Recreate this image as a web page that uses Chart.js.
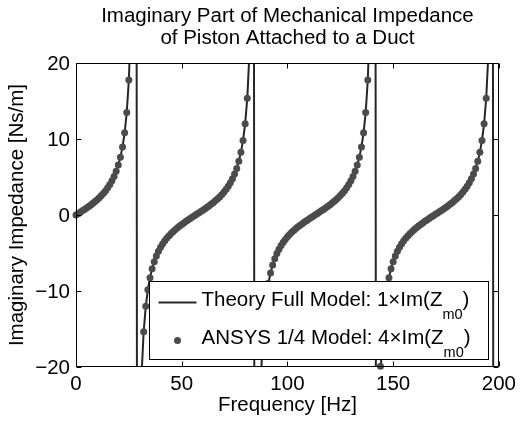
<!DOCTYPE html>
<html>
<head>
<meta charset="utf-8">
<script src="https://cdn.jsdelivr.net/npm/chart.js@4.4.1/dist/chart.umd.min.js"></script>
<style>
  html, body { margin: 0; padding: 0; background: #fff; }
</style>
</head>
<body>
<canvas id="impChart" width="521" height="421"></canvas>
<script>
// frequency grid of the samples [Hz]
const freqHz = [
  0, 1, 2, 3, 4, 5, 6, 7, 8, 9, 10, 11, 12, 13, 14, 15, 16, 17, 18, 19,
  20, 21, 22, 23, 24, 25, 26, 27, 28, 29, 30, 31, 32, 33, 34, 35, 36, 37, 38, 39,
  40, 41, 42, 43, 44, 45, 46, 47, 48, 49, 50, 51, 52, 53, 54, 55, 56, 57, 58, 59,
  60, 61, 62, 63, 64, 65, 66, 67, 68, 69, 70, 71, 72, 73, 74, 75, 76, 77, 78, 79,
  80, 81, 82, 83, 84, 85, 86, 87, 88, 89, 90, 91, 92, 93, 94, 95, 96, 97, 98, 99,
  100, 101, 102, 103, 104, 105, 106, 107, 108, 109, 110, 111, 112, 113, 114, 115, 116, 117, 118, 119,
  120, 121, 122, 123, 124, 125, 126, 127, 128, 129, 130, 131, 132, 133, 134, 135, 136, 137, 138, 139,
  140, 141, 142, 143, 144, 145, 146, 147, 148, 149, 150, 151, 152, 153, 154, 155, 156, 157, 158, 159,
  160, 161, 162, 163, 164, 165, 166, 167, 168, 169, 170, 171, 172, 173, 174, 175, 176, 177, 178, 179,
  180, 181, 182, 183, 184, 185, 186, 187, 188, 189, 190, 191, 192, 193, 194, 195, 196, 197, 198, 199,
  200
];

// Theory full model, 1 x Im(Zm0) [Ns/m]
const theoryIm = [
  0, 0.18, 0.36, 0.55, 0.74, 0.93, 1.13, 1.33, 1.55, 1.78,
  2.02, 2.28, 2.56, 2.87, 3.21, 3.58, 4.01, 4.50, 5.07, 5.75,
  6.58, 7.62, 8.97, 10.82, 13.50, 17.79, 25.84, 46.69, 233.8,
  -77.89, -33.30, -21.09, -15.36, -12.02, -9.82, -8.25, -7.07, -6.14, -5.40,
  -4.78, -4.25, -3.79, -3.39, -3.03, -2.71, -2.42, -2.15, -1.90, -1.66,
  -1.44, -1.23, -1.03, -0.83, -0.64, -0.46, -0.27, -0.09,
  0.09, 0.27, 0.46, 0.64, 0.83, 1.03, 1.23, 1.44, 1.66, 1.90,
  2.15, 2.42, 2.71, 3.03, 3.39, 3.79, 4.25, 4.78, 5.40, 6.14,
  7.07, 8.25, 9.82, 12.02, 15.36, 21.09, 33.30, 77.89,
  -233.8, -46.69, -25.84, -17.79, -13.50, -10.82, -8.97, -7.62, -6.58, -5.75,
  -5.07, -4.50, -4.01, -3.58, -3.21, -2.87, -2.56, -2.28, -2.02, -1.78,
  -1.55, -1.33, -1.13, -0.93, -0.74, -0.55, -0.36, -0.18,
  0, 0.18, 0.36, 0.55, 0.74, 0.93, 1.13, 1.33, 1.55, 1.78,
  2.02, 2.28, 2.56, 2.87, 3.21, 3.58, 4.01, 4.50, 5.07, 5.75,
  6.58, 7.62, 8.97, 10.82, 13.50, 17.79, 25.84, 46.69, 233.8,
  -77.89, -33.30, -21.09, -15.36, -12.02, -9.82, -8.25, -7.07, -6.14, -5.40,
  -4.78, -4.25, -3.79, -3.39, -3.03, -2.71, -2.42, -2.15, -1.90, -1.66,
  -1.44, -1.23, -1.03, -0.83, -0.64, -0.46, -0.27, -0.09,
  0.09, 0.27, 0.46, 0.64, 0.83, 1.03, 1.23, 1.44, 1.66, 1.90,
  2.15, 2.42, 2.71, 3.03, 3.39, 3.79, 4.25, 4.78, 5.40, 6.14,
  7.07, 8.25, 9.82, 12.02, 15.36, 21.09, 33.30, 77.89,
  -233.8, -46.69, -25.84
];

// ANSYS 1/4 model, 4 x Im(Zm0) [Ns/m]
const ansysIm = [
  0, 0.18, 0.36, 0.55, 0.74, 0.93, 1.13, 1.33, 1.55, 1.78,
  2.02, 2.28, 2.56, 2.87, 3.21, 3.58, 4.01, 4.50, 5.07, 5.75,
  6.58, 7.62, 8.97, 10.82, 13.50, 17.79, 25.84, 46.69, 233.8,
  -77.89, -33.30, -21.09, -15.36, -12.02, -9.82, -8.25, -7.07, -6.14, -5.40,
  -4.78, -4.25, -3.79, -3.39, -3.03, -2.71, -2.42, -2.15, -1.90, -1.66,
  -1.44, -1.23, -1.03, -0.83, -0.64, -0.46, -0.27, -0.09,
  0.09, 0.27, 0.46, 0.64, 0.83, 1.03, 1.23, 1.44, 1.66, 1.90,
  2.15, 2.42, 2.71, 3.03, 3.39, 3.79, 4.25, 4.78, 5.40, 6.14,
  7.07, 8.25, 9.82, 12.02, 15.36, 21.09, 33.30, 77.89,
  -233.8, -46.69, -25.84, -17.79, -13.50, -10.82, -8.97, -7.62, -6.58, -5.75,
  -5.07, -4.50, -4.01, -3.58, -3.21, -2.87, -2.56, -2.28, -2.02, -1.78,
  -1.55, -1.33, -1.13, -0.93, -0.74, -0.55, -0.36, -0.18,
  0, 0.18, 0.36, 0.55, 0.74, 0.93, 1.13, 1.33, 1.55, 1.78,
  2.02, 2.28, 2.56, 2.87, 3.21, 3.58, 4.01, 4.50, 5.07, 5.75,
  6.58, 7.62, 8.97, 10.82, 13.50, 17.79, 25.84, 46.69, 233.8,
  -77.89, -33.30, -19.9, -15.36, -12.02, -9.82, -8.25, -7.07, -6.14, -5.40,
  -4.78, -4.25, -3.79, -3.39, -3.03, -2.71, -2.42, -2.15, -1.90, -1.66,
  -1.44, -1.23, -1.03, -0.83, -0.64, -0.46, -0.27, -0.09,
  0.09, 0.27, 0.46, 0.64, 0.83, 1.03, 1.23, 1.44, 1.66, 1.90,
  2.15, 2.42, 2.71, 3.03, 3.39, 3.79, 4.25, 4.78, 5.40, 6.14,
  7.07, 8.25, 9.82, 12.02, 15.36, 21.09, 33.30, 77.89,
  -233.8, -46.69, -25.84
];

const xTicks = [0, 50, 100, 150, 200];
const yTicks = [-20, -10, 0, 10, 20];
const legendLabels = ["Theory Full Model: 1\u00d7Im(Z", "ANSYS 1/4 Model: 4\u00d7Im(Z"];
const legendSub = "m0";

const FONT = '"Liberation Sans", Arial, Helvetica, sans-serif';
const FS = 20.5;
const lineColor = "#262626";
const dotColor = "#4b4b4b";

const toPoints = ys => freqHz.map((f, i) => ({ x: f, y: ys[i] }));
const minusSign = v => String(v).replace("-", "\u2212");

// box round the axes + inward tick marks on all four sides (matlab style)
const axesBox = {
  id: "axesBox",
  afterDatasetsDraw(chart) {
    const { ctx, chartArea: a, scales: { x, y } } = chart;
    const L = Math.round(a.left) + 0.5, R = Math.round(a.right) - 0.5;
    const T = Math.round(a.top) + 0.5, B = Math.round(a.bottom) - 0.5;
    const len = 5;
    ctx.save();
    ctx.strokeStyle = "#000";
    ctx.lineWidth = 1;
    ctx.beginPath();
    ctx.rect(L, T, R - L, B - T);
    xTicks.forEach(v => {
      const px = Math.round(x.getPixelForValue(v)) + 0.5;
      ctx.moveTo(px, B); ctx.lineTo(px, B - len);
      ctx.moveTo(px, T); ctx.lineTo(px, T + len);
    });
    yTicks.forEach(v => {
      const py = Math.round(y.getPixelForValue(v)) + 0.5;
      ctx.moveTo(L, py); ctx.lineTo(L + len, py);
      ctx.moveTo(R, py); ctx.lineTo(R - len, py);
    });
    ctx.stroke();
    ctx.restore();
  }
};

// legend with subscripts, drawn in the lower right corner
const legendBox = {
  id: "legendBox",
  afterDraw(chart) {
    const { ctx, chartArea: a } = chart;
    const W = 339, H = 78;
    const left = Math.round(a.right - 10.5 - W) + 0.5;
    const top = Math.round(a.bottom - 8 - H) + 0.5;
    ctx.save();
    ctx.fillStyle = "#fff";
    ctx.fillRect(left, top, W, H);
    ctx.strokeStyle = "#000";
    ctx.lineWidth = 1;
    ctx.strokeRect(left, top, W, H);

    // samples
    ctx.strokeStyle = lineColor;
    ctx.lineWidth = 2;
    ctx.beginPath();
    ctx.moveTo(left + 9, top + 21);
    ctx.lineTo(left + 47, top + 21);
    ctx.stroke();
    ctx.fillStyle = dotColor;
    ctx.beginPath();
    ctx.arc(left + 28, top + 59, 3.5, 0, Math.PI * 2);
    ctx.fill();

    // texts
    ctx.fillStyle = "#000";
    ctx.textBaseline = "alphabetic";
    ctx.textAlign = "left";
    legendLabels.forEach((txt, i) => {
      const base = top + 24 + i * 38;
      let tx = left + 52;
      ctx.font = FS + "px " + FONT;
      ctx.fillText(txt, tx, base);
      tx += ctx.measureText(txt).width;
      ctx.font = "14.5px " + FONT;
      ctx.fillText(legendSub, tx, base + 13);
      tx += ctx.measureText(legendSub).width;
      ctx.font = FS + "px " + FONT;
      ctx.fillText(")", tx, base);
    });
    ctx.restore();
  }
};

Chart.defaults.font.family = FONT;
Chart.defaults.font.size = FS;
Chart.defaults.color = "#000";

new Chart(document.getElementById("impChart"), {
  type: "scatter",
  data: {
    datasets: [
      {
        label: "ANSYS 1/4 Model",
        data: toPoints(ansysIm),
        showLine: false,
        pointRadius: 3.5,
        pointBorderWidth: 0,
        pointBackgroundColor: dotColor,
        clip: 5,
        order: 0
      },
      {
        label: "Theory Full Model",
        data: toPoints(theoryIm),
        showLine: true,
        borderColor: lineColor,
        borderWidth: 2,
        pointRadius: 0,
        tension: 0,
        clip: 0,
        order: 1
      }
    ]
  },
  options: {
    responsive: false,
    animation: false,
    devicePixelRatio: 1,
    events: [],
    layout: { padding: { left: 0, right: 18, top: 0, bottom: 0 } },
    scales: {
      x: {
        type: "linear",
        min: 0,
        max: 200,
        afterBuildTicks: s => { s.ticks = xTicks.map(v => ({ value: v })); },
        afterFit: s => { s.height = 54; },
        grid: { display: false, drawTicks: false },
        border: { display: false },
        ticks: { padding: 5, color: "#000", maxRotation: 0, callback: minusSign },
        title: { display: true, text: "Frequency [Hz]", color: "#000", padding: { top: 0, bottom: 3 } }
      },
      y: {
        type: "linear",
        min: -20,
        max: 20,
        afterBuildTicks: s => { s.ticks = yTicks.map(v => ({ value: v })); },
        afterFit: s => { s.width = 76; },
        grid: { display: false, drawTicks: false },
        border: { display: false },
        ticks: { padding: 6, labelOffset: 1.5, color: "#000", callback: minusSign },
        title: { display: true, text: "Imaginary Impedance [Ns/m]", color: "#000", padding: { top: 5, bottom: 0 } }
      }
    },
    plugins: {
      legend: { display: false },
      tooltip: { enabled: false },
      title: {
        display: true,
        fullSize: false,
        text: ["Imaginary Part of Mechanical Impedance", "of Piston Attached to a Duct"],
        color: "#000",
        font: { size: FS, weight: "normal", lineHeight: 1.1 },
        padding: { top: 5, bottom: 13 }
      }
    }
  },
  plugins: [axesBox, legendBox]
});
</script>
</body>
</html>
